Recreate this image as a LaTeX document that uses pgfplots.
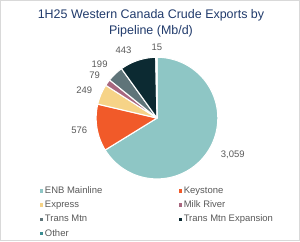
\documentclass[border=0pt]{standalone}
\usepackage{pgfplots}
\pgfplotsset{compat=1.18}
\usepackage{pgfplotstable}
\usepackage{fontspec}
\setmainfont{Liberation Sans}
\definecolor{c0}{HTML}{8EC6C5}
\definecolor{c1}{HTML}{F15A29}
\definecolor{c2}{HTML}{F6D387}
\definecolor{c3}{HTML}{A8677F}
\definecolor{c4}{HTML}{5F7479}
\definecolor{c5}{HTML}{0C2A32}
\definecolor{c6}{HTML}{3A8C91}
\definecolor{titlec}{HTML}{203A6B}
\definecolor{labgray}{HTML}{595959}
\definecolor{framegray}{HTML}{D9D9D9}
\pgfplotstableread{
label value
ENB 3059
Keystone 576
Express 249
MilkRiver 79
TransMtn 199
TMX 443
Other 15
}\piedata
\begin{document}
\begin{tikzpicture}
\begin{axis}[
  scale only axis, width=300pt, height=241pt,
  xmin=0, xmax=300, ymin=0, ymax=241,
  xtick=\empty, ytick=\empty,
  axis line style={draw=framegray, line width=0.8pt},
  clip=false,
  legend columns=2,
  legend cell align=left,
  legend image code/.code={\fill[#1,draw=none] (0pt,-1.7pt) rectangle (3.4pt,1.7pt); \path (5.2pt,0pt);},
  legend style={at={(axis cs:39.5,54.5)}, anchor=north west, draw=none, fill=none,
    font=\fontsize{9.5}{11}\selectfont, text=labgray, inner sep=0pt, outer sep=0pt,
    row sep=5.3pt, column sep=0pt,
    nodes={inner sep=0pt, text height=7pt, text depth=2pt}},
]
\def\tot{0}
\pgfplotsforeachungrouped \i in {0,...,6}{%
  \pgfplotstablegetelem{\i}{value}\of\piedata
  \pgfmathsetmacro\tot{\tot+\pgfplotsretval}%
}
\def\cum{0}
\pgfplotsforeachungrouped \i in {0,...,6}{%
  \pgfplotstablegetelem{\i}{value}\of\piedata
  \pgfmathsetmacro\angA{90-\cum/\tot*360}%
  \pgfmathsetmacro\cum{\cum+\pgfplotsretval}%
  \pgfmathsetmacro\angB{90-\cum/\tot*360}%
  \edef\temp{\noexpand\addplot[forget plot, fill=c\i, draw=white, line width=1.1pt, line join=round,
     domain=\angB:\angA, samples=150]
     ({157+61*cos(x)},{123+61*sin(x)}) -- (axis cs:157,123) -- cycle;}%
  \temp
}
\addlegendimage{fill=c0,draw=none}\addlegendentry{\makebox[134pt][l]{ENB Mainline}}
\addlegendimage{fill=c1,draw=none}\addlegendentry{Keystone}
\addlegendimage{fill=c2,draw=none}\addlegendentry{\makebox[134pt][l]{Express}}
\addlegendimage{fill=c3,draw=none}\addlegendentry{Milk River}
\addlegendimage{fill=c4,draw=none}\addlegendentry{\makebox[134pt][l]{Trans Mtn}}
\addlegendimage{fill=c5,draw=none}\addlegendentry{Trans Mtn Expansion}
\addlegendimage{fill=c6,draw=none}\addlegendentry{\makebox[134pt][l]{Other}}
% title
\node[font=\fontsize{12.5}{16}\selectfont, text=titlec, align=center] at (axis cs:151,218)
  {1H25 Western Canada Crude Exports by\\Pipeline (Mb/d)};
% data labels
\begin{scope}[every node/.style={font=\fontsize{9.5}{11}\selectfont, text=labgray}]
\node at (axis cs:233,86) {3,059};
\node at (axis cs:79,111) {576};
\node at (axis cs:84,151) {249};
\node at (axis cs:94.5,166) {79};
\node at (axis cs:99.5,177) {199};
\node at (axis cs:123.5,191) {443};
\node at (axis cs:157,194) {15};
\end{scope}
\end{axis}
\end{tikzpicture}
\end{document}
